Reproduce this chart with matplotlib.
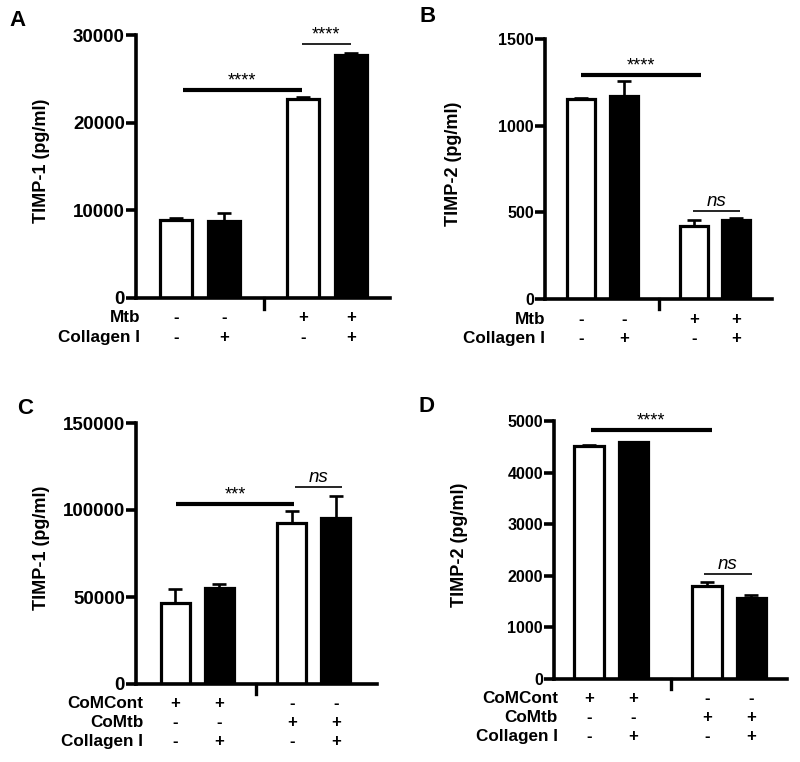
import matplotlib
matplotlib.use("Agg")
import matplotlib.pyplot as plt
import matplotlib.transforms as mtransforms

plt.rcParams["font.family"] = ["Liberation Sans", "DejaVu Sans"]
plt.rcParams["font.weight"] = "bold"

X = [0, 1, 2.65, 3.65]
BREAK_X = 1.83
FILLS = ["white", "black", "white", "black"]

# panel data
A_vals = [8860, 8780, 22700, 27700]
A_err = [250, 950, 260, 300]
B_vals = [1153, 1174, 422, 457]
B_err = [6, 83, 32, 9]
C_vals = [46800, 55000, 92500, 95500]
C_err = [7900, 2700, 7200, 12500]
D_vals = [4509, 4587, 1809, 1565]
D_err = [32, 13, 71, 65]

rows_AB = ["Mtb", "Collagen I"]
signs_AB = [["-", "-", "+", "+"], ["-", "+", "-", "+"]]
rows_CD = ["CoMCont", "CoMtb", "Collagen I"]
signs_CD = [["+", "+", "-", "-"], ["-", "-", "+", "+"], ["-", "+", "-", "+"]]

W, H = 800, 762
fig = plt.figure(figsize=(8, 7.62), dpi=100)


def make_axes(left, right, top, bottom):
    return fig.add_axes([left / W, 1 - bottom / H, (right - left) / W, (bottom - top) / H])


def panel(ax, vals, errs, ymax, step, ylabel, xlim, label_x, rows, signs, row_y, rx, sigs,
          ticksize):
    for x, v, e, c in zip(X, vals, errs, FILLS):
        ax.errorbar(x, v, yerr=[[0], [e]], color="black", capsize=5, elinewidth=1.9,
                    capthick=1.9, zorder=1)
        ax.bar(x, v, width=0.66, color=c, edgecolor="black", linewidth=2.3, zorder=2)
    ax.set_xlim(*xlim)
    ax.set_ylim(0, ymax)
    ax.set_yticks(range(0, ymax + 1, step))
    ax.set_xticks([])
    for s in ["top", "right"]:
        ax.spines[s].set_visible(False)
    for s in ["left", "bottom"]:
        ax.spines[s].set_linewidth(2.6)
    ax.tick_params(axis="y", length=7, width=2.6, labelsize=ticksize, pad=1)
    for t in ax.get_yticklabels():
        t.set_fontweight("bold")
    ax.set_ylabel(ylabel, fontsize=13, fontweight="bold")
    ax.yaxis.set_label_coords(label_x, 0.52)

    trans = mtransforms.blended_transform_factory(ax.transData, ax.transAxes)
    ax.plot([BREAK_X, BREAK_X], [0, -0.04], color="black", lw=2.4, transform=trans,
            clip_on=False)
    tl = mtransforms.blended_transform_factory(ax.transAxes, ax.transAxes)
    for name, sg, y in zip(rows, signs, row_y):
        ax.text(rx, y, name, transform=tl, ha="right", va="center", fontsize=12.3,
                fontweight="bold")
        for x, s in zip(X, sg):
            ax.text(x, y, s, transform=trans, ha="center", va="center", fontsize=12,
                    fontweight="bold")

    for x0, x1, y, txt, thick, dy in sigs:
        ax.plot([x0, x1], [y, y], color="black", lw=3.0 if thick else 1.2,
                solid_capstyle="butt", clip_on=False)
        if txt == "ns":
            ax.text((x0 + x1) / 2, y + dy, txt, ha="center", va="bottom", fontsize=13.5,
                    style="italic", fontweight="normal")
        else:
            ax.text((x0 + x1) / 2, y + dy, txt, ha="center", va="bottom", fontsize=13,
                    fontweight="normal")


axA = make_axes(136, 390, 35, 298)
panel(axA, A_vals, A_err, 30000, 10000, "TIMP-1 (pg/ml)", (-0.83, 4.46), -0.34,
      rows_AB, signs_AB, [-0.076, -0.152], 0.016,
      [(0.15, 2.62, 23700, "****", True, 100), (2.62, 3.64, 28940, "****", False, 100)],
      13.5)

axB = make_axes(545, 772, 39, 299)
panel(axB, B_vals, B_err, 1500, 500, "TIMP-2 (pg/ml)", (-0.85, 4.49), -0.365,
      rows_AB, signs_AB, [-0.077, -0.150], 0.0,
      [(0.0, 2.82, 1292, "****", True, 5), (2.62, 3.74, 510, "ns", False, 5)],
      11.5)

axC = make_axes(136, 377, 423, 684)
panel(axC, C_vals, C_err, 150000, 50000, "TIMP-1 (pg/ml)", (-0.89, 4.59), -0.355,
      rows_CD, signs_CD, [-0.073, -0.146, -0.219], 0.03,
      [(0.02, 2.7, 103400, "***", True, 500), (2.73, 3.8, 113500, "ns", False, 500)],
      13.5)

axD = make_axes(554, 787, 421, 679)
panel(axD, D_vals, D_err, 5000, 1000, "TIMP-2 (pg/ml)", (-0.79, 4.45), -0.37,
      rows_CD, signs_CD, [-0.076, -0.149, -0.222], 0.017,
      [(0.04, 2.76, 4818, "****", True, 20), (2.58, 3.66, 2035, "ns", False, 20)],
      11.5)

for letter, px, py in [("A", 18, 20), ("B", 428, 17), ("C", 25, 408), ("D", 427, 407)]:
    fig.text(px / W, 1 - py / H, letter, ha="center", va="center", fontsize=16,
             fontweight="bold")

fig.savefig("out.png", dpi=100)
